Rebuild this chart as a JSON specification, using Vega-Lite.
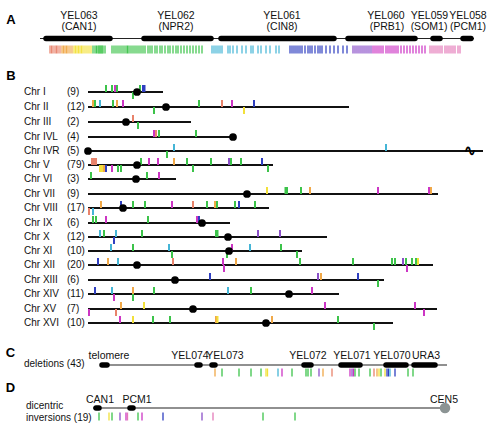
{
  "$schema": "https://vega.github.io/schema/vega-lite/v6.json",
  "width": 493,
  "height": 430,
  "autosize": {"type": "fit", "contains": "padding"},
  "padding": 0,
  "background": "white",
  "config": {"view": {"stroke": null}, "text": {"font": "Liberation Sans"}},
  "datasets": {
    "loci": [
      {"panel": "A", "x1": 40, "x2": 474, "y": 38.5},
      {"panel": "C", "x1": 100, "x2": 447, "y": 365},
      {"panel": "D", "x1": 93, "x2": 445, "y": 408}
    ],
    "genes": [
      {"x1": 46, "x2": 110, "y": 38.5}, {"x1": 144, "x2": 211, "y": 38.5}, {"x1": 221, "x2": 334, "y": 38.5},
      {"x1": 348, "x2": 415, "y": 38.5}, {"x1": 433, "x2": 440, "y": 38.5}, {"x1": 463, "x2": 471, "y": 38.5},
      {"x1": 102, "x2": 107, "y": 365}, {"x1": 197, "x2": 200, "y": 365}, {"x1": 212, "x2": 215, "y": 365},
      {"x1": 304, "x2": 311, "y": 365}, {"x1": 341, "x2": 360, "y": 365}, {"x1": 386, "x2": 406, "y": 365},
      {"x1": 414, "x2": 435, "y": 365},
      {"x1": 96, "x2": 99, "y": 408}, {"x1": 130, "x2": 133, "y": 408}
    ],
    "chroms": [
      {"chr": "I", "name": "Chr I", "count": "(9)", "y": 92, "x1": 88, "x2": 163, "cen": 137},
      {"chr": "II", "name": "Chr II", "count": "(12)", "y": 107, "x1": 88, "x2": 349, "cen": 166},
      {"chr": "III", "name": "Chr III", "count": "(2)", "y": 122, "x1": 88, "x2": 191, "cen": 126},
      {"chr": "IVL", "name": "Chr IVL", "count": "(4)", "y": 137, "x1": 88, "x2": 233, "cen": 233},
      {"chr": "IVR", "name": "Chr IVR", "count": "(5)", "y": 151, "x1": 88, "x2": 483, "cen": 88},
      {"chr": "V", "name": "Chr V", "count": "(79)", "y": 165, "x1": 88, "x2": 273, "cen": 137},
      {"chr": "VI", "name": "Chr VI", "count": "(3)", "y": 179, "x1": 88, "x2": 176, "cen": 136},
      {"chr": "VII", "name": "Chr VII", "count": "(9)", "y": 194, "x1": 88, "x2": 438, "cen": 247},
      {"chr": "VIII", "name": "Chr VIII", "count": "(17)", "y": 208, "x1": 88, "x2": 269, "cen": 123},
      {"chr": "IX", "name": "Chr IX", "count": "(6)", "y": 223, "x1": 88, "x2": 230, "cen": 202},
      {"chr": "X", "name": "Chr X", "count": "(12)", "y": 237, "x1": 88, "x2": 327, "cen": 228},
      {"chr": "XI", "name": "Chr XI", "count": "(10)", "y": 251, "x1": 88, "x2": 302, "cen": 229},
      {"chr": "XII", "name": "Chr XII", "count": "(20)", "y": 265, "x1": 88, "x2": 433, "cen": 137},
      {"chr": "XIII", "name": "Chr XIII", "count": "(6)", "y": 280, "x1": 88, "x2": 384, "cen": 175},
      {"chr": "XIV", "name": "Chr XIV", "count": "(11)", "y": 294, "x1": 88, "x2": 339, "cen": 289},
      {"chr": "XV", "name": "Chr XV", "count": "(7)", "y": 309, "x1": 88, "x2": 437, "cen": 193},
      {"chr": "XVI", "name": "Chr XVI", "count": "(10)", "y": 323, "x1": 88, "x2": 393, "cen": 266}
    ],
    "tickA": [
      {"x": 50, "c": "salmon"}, {"x": 51.5, "c": "salmon"}, {"x": 53, "c": "salmon"}, {"x": 55, "c": "salmon"}, {"x": 56.5, "c": "salmon"}, {"x": 58, "c": "salmon"}, {"x": 60, "c": "salmon"},
      {"x": 62, "c": "orange"}, {"x": 63.5, "c": "orange"}, {"x": 65, "c": "orange"}, {"x": 66.5, "c": "orange"}, {"x": 68, "c": "orange"}, {"x": 70, "c": "orange"}, {"x": 72, "c": "orange"},
      {"x": 74, "c": "yellow"}, {"x": 75.5, "c": "yellow"}, {"x": 77, "c": "yellow"}, {"x": 78.5, "c": "yellow"}, {"x": 80, "c": "yellow"}, {"x": 81.5, "c": "yellow"}, {"x": 83, "c": "yellow"}, {"x": 85, "c": "yellow"}, {"x": 87, "c": "yellow"}, {"x": 89, "c": "yellow"}, {"x": 91, "c": "yellow"},
      {"x": 93, "c": "green"}, {"x": 95, "c": "green"}, {"x": 96.5, "c": "green"}, {"x": 98, "c": "green"}, {"x": 99, "c": "green"}, {"x": 100, "c": "green"}, {"x": 101, "c": "green"}, {"x": 102, "c": "green"}, {"x": 103, "c": "green"}, {"x": 105, "c": "green"},
      {"x": 112, "c": "green"}, {"x": 114, "c": "green"}, {"x": 116, "c": "green"}, {"x": 118, "c": "green"}, {"x": 120, "c": "green"}, {"x": 122, "c": "green"}, {"x": 124, "c": "green"}, {"x": 126, "c": "green"}, {"x": 127.5, "c": "green"}, {"x": 129, "c": "green"},
      {"x": 131, "c": "green"}, {"x": 133, "c": "green"}, {"x": 135, "c": "green"}, {"x": 137, "c": "green"}, {"x": 139, "c": "green"}, {"x": 141, "c": "green"}, {"x": 143, "c": "green"}, {"x": 145, "c": "green"}, {"x": 148, "c": "green"}, {"x": 150, "c": "green"},
      {"x": 152, "c": "green"}, {"x": 155, "c": "green"}, {"x": 157, "c": "green"}, {"x": 160, "c": "green"}, {"x": 162, "c": "green"}, {"x": 165, "c": "green"}, {"x": 168, "c": "green"}, {"x": 170, "c": "green"}, {"x": 173, "c": "green"}, {"x": 176, "c": "green"},
      {"x": 178, "c": "green"}, {"x": 181, "c": "green"}, {"x": 184, "c": "green"}, {"x": 187, "c": "green"}, {"x": 190, "c": "green"}, {"x": 193, "c": "green"}, {"x": 196, "c": "green"}, {"x": 199, "c": "green"}, {"x": 202, "c": "green"},
      {"x": 212, "c": "cyan"}, {"x": 214, "c": "cyan"}, {"x": 216, "c": "cyan"}, {"x": 218, "c": "cyan"}, {"x": 220, "c": "cyan"}, {"x": 222, "c": "cyan"}, {"x": 228, "c": "cyan"}, {"x": 230, "c": "cyan"}, {"x": 233, "c": "cyan"}, {"x": 237, "c": "cyan"},
      {"x": 242, "c": "cyan"}, {"x": 246, "c": "cyan"}, {"x": 251, "c": "cyan"}, {"x": 253, "c": "cyan"}, {"x": 258, "c": "cyan"}, {"x": 261, "c": "cyan"}, {"x": 266, "c": "cyan"}, {"x": 270, "c": "cyan"}, {"x": 276, "c": "cyan"}, {"x": 279, "c": "cyan"},
      {"x": 290, "c": "blue"}, {"x": 292, "c": "blue"}, {"x": 294, "c": "blue"}, {"x": 296, "c": "blue"}, {"x": 298, "c": "blue"}, {"x": 300, "c": "blue"}, {"x": 302, "c": "blue"}, {"x": 305, "c": "blue"}, {"x": 308, "c": "blue"}, {"x": 310, "c": "blue"},
      {"x": 312, "c": "blue"}, {"x": 315, "c": "blue"}, {"x": 318, "c": "blue"}, {"x": 320, "c": "blue"}, {"x": 322, "c": "blue"}, {"x": 326, "c": "blue"}, {"x": 330, "c": "blue"}, {"x": 334, "c": "blue"}, {"x": 338, "c": "blue"}, {"x": 343, "c": "blue"}, {"x": 347, "c": "blue"},
      {"x": 353, "c": "purple"}, {"x": 355, "c": "purple"}, {"x": 357, "c": "purple"}, {"x": 359, "c": "purple"}, {"x": 361, "c": "purple"}, {"x": 363, "c": "purple"}, {"x": 365, "c": "purple"}, {"x": 367, "c": "purple"}, {"x": 369, "c": "purple"}, {"x": 371, "c": "purple"},
      {"x": 373, "c": "magenta"}, {"x": 375, "c": "magenta"}, {"x": 377, "c": "magenta"}, {"x": 379, "c": "magenta"}, {"x": 381, "c": "magenta"}, {"x": 383, "c": "magenta"}, {"x": 386, "c": "magenta"}, {"x": 388, "c": "magenta"}, {"x": 390, "c": "magenta"}, {"x": 392, "c": "magenta"},
      {"x": 394, "c": "magenta"}, {"x": 396, "c": "magenta"}, {"x": 398, "c": "magenta"}, {"x": 401, "c": "magenta"}, {"x": 404, "c": "magenta"}, {"x": 407, "c": "magenta"}, {"x": 410, "c": "magenta"}, {"x": 413, "c": "magenta"}, {"x": 416, "c": "magenta"}, {"x": 419, "c": "magenta"}, {"x": 422, "c": "magenta"}, {"x": 425, "c": "magenta"},
      {"x": 430, "c": "pink"}, {"x": 432, "c": "pink"}, {"x": 434, "c": "pink"}, {"x": 436, "c": "pink"}, {"x": 438, "c": "pink"}, {"x": 440, "c": "pink"}, {"x": 442, "c": "pink"}, {"x": 445, "c": "pink"}, {"x": 447, "c": "pink"}, {"x": 449, "c": "pink"},
      {"x": 451, "c": "pink"}, {"x": 453, "c": "pink"}, {"x": 455, "c": "pink"}, {"x": 458, "c": "pink"}, {"x": 460, "c": "pink"}
    ],
    "tickB": [
      {"y": 92, "x": 106, "s": "a", "c": "green"}, {"y": 92, "x": 112, "s": "a", "c": "green"}, {"y": 92, "x": 115, "s": "a", "c": "magenta"}, {"y": 92, "x": 117, "s": "a", "c": "green"}, {"y": 92, "x": 140, "s": "a", "c": "green"}, {"y": 92, "x": 143, "s": "a", "c": "blue"}, {"y": 92, "x": 144.5, "s": "a", "c": "blue"}, {"y": 92, "x": 133, "s": "b", "c": "green"},
      {"y": 107, "x": 93, "s": "a", "c": "orange"}, {"y": 107, "x": 95, "s": "a", "c": "green"}, {"y": 107, "x": 100, "s": "a", "c": "cyan"}, {"y": 107, "x": 113, "s": "a", "c": "green"}, {"y": 107, "x": 117, "s": "a", "c": "orange"}, {"y": 107, "x": 123, "s": "a", "c": "magenta"}, {"y": 107, "x": 199, "s": "a", "c": "green"}, {"y": 107, "x": 222, "s": "a", "c": "salmon"}, {"y": 107, "x": 232, "s": "a", "c": "magenta"}, {"y": 107, "x": 254, "s": "a", "c": "blue"}, {"y": 107, "x": 154, "s": "b", "c": "green"}, {"y": 107, "x": 244, "s": "b", "c": "yellow"},
      {"y": 122, "x": 133, "s": "a", "c": "salmon"}, {"y": 122, "x": 138, "s": "b", "c": "green"},
      {"y": 137, "x": 154, "s": "a", "c": "magenta"}, {"y": 137, "x": 156, "s": "a", "c": "salmon"}, {"y": 137, "x": 159, "s": "a", "c": "green"}, {"y": 137, "x": 196, "s": "a", "c": "green"},
      {"y": 151, "x": 174, "s": "a", "c": "cyan"}, {"y": 151, "x": 386, "s": "a", "c": "cyan"}, {"y": 151, "x": 167, "s": "b", "c": "green"},
      {"y": 165, "x": 92, "s": "a", "c": "salmon"}, {"y": 165, "x": 94, "s": "a", "c": "salmon"}, {"y": 165, "x": 96, "s": "a", "c": "salmon"}, {"y": 165, "x": 141, "s": "a", "c": "green"}, {"y": 165, "x": 149, "s": "a", "c": "magenta"}, {"y": 165, "x": 158, "s": "a", "c": "magenta"}, {"y": 165, "x": 174, "s": "a", "c": "orange"}, {"y": 165, "x": 187, "s": "a", "c": "green"}, {"y": 165, "x": 211, "s": "a", "c": "green"}, {"y": 165, "x": 229, "s": "a", "c": "purple"}, {"y": 165, "x": 231, "s": "a", "c": "green"}, {"y": 165, "x": 241, "s": "a", "c": "green"}, {"y": 165, "x": 262, "s": "a", "c": "blue"},
      {"y": 165, "x": 100, "s": "b", "c": "yellow"}, {"y": 165, "x": 102, "s": "b", "c": "yellow"}, {"y": 165, "x": 104, "s": "b", "c": "orange"}, {"y": 165, "x": 106, "s": "b", "c": "blue"}, {"y": 165, "x": 112, "s": "b", "c": "magenta"}, {"y": 165, "x": 118, "s": "b", "c": "green"}, {"y": 165, "x": 121, "s": "b", "c": "green"}, {"y": 165, "x": 193, "s": "b", "c": "green"}, {"y": 165, "x": 268, "s": "b", "c": "green"},
      {"y": 179, "x": 91, "s": "a", "c": "green"}, {"y": 179, "x": 147, "s": "a", "c": "green"}, {"y": 179, "x": 159, "s": "a", "c": "magenta"},
      {"y": 194, "x": 267, "s": "a", "c": "yellow"}, {"y": 194, "x": 285.5, "s": "a", "c": "green"}, {"y": 194, "x": 287, "s": "a", "c": "green"}, {"y": 194, "x": 301, "s": "a", "c": "green"}, {"y": 194, "x": 310, "s": "a", "c": "orange"}, {"y": 194, "x": 378, "s": "a", "c": "magenta"}, {"y": 194, "x": 429, "s": "a", "c": "magenta"}, {"y": 194, "x": 431, "s": "a", "c": "orange"},
      {"y": 208, "x": 101, "s": "a", "c": "orange"}, {"y": 208, "x": 121, "s": "a", "c": "blue"}, {"y": 208, "x": 133, "s": "a", "c": "green"}, {"y": 208, "x": 145, "s": "a", "c": "green"}, {"y": 208, "x": 172, "s": "a", "c": "magenta"}, {"y": 208, "x": 193, "s": "a", "c": "salmon"}, {"y": 208, "x": 207, "s": "a", "c": "green"}, {"y": 208, "x": 215, "s": "a", "c": "orange"}, {"y": 208, "x": 217, "s": "a", "c": "green"}, {"y": 208, "x": 235, "s": "a", "c": "green"}, {"y": 208, "x": 239, "s": "a", "c": "blue"}, {"y": 208, "x": 255, "s": "a", "c": "green"}, {"y": 208, "x": 89, "s": "b", "c": "salmon"}, {"y": 208, "x": 93, "s": "b", "c": "cyan"},
      {"y": 223, "x": 93, "s": "a", "c": "green"}, {"y": 223, "x": 96, "s": "a", "c": "green"}, {"y": 223, "x": 106, "s": "a", "c": "magenta"}, {"y": 223, "x": 148, "s": "a", "c": "green"}, {"y": 223, "x": 197, "s": "a", "c": "magenta"}, {"y": 223, "x": 199, "s": "a", "c": "blue"},
      {"y": 237, "x": 100, "s": "a", "c": "cyan"}, {"y": 237, "x": 104, "s": "a", "c": "green"}, {"y": 237, "x": 116, "s": "a", "c": "cyan"}, {"y": 237, "x": 142, "s": "a", "c": "green"}, {"y": 237, "x": 216, "s": "a", "c": "green"}, {"y": 237, "x": 217.5, "s": "a", "c": "green"}, {"y": 237, "x": 258, "s": "a", "c": "purple"}, {"y": 237, "x": 280, "s": "a", "c": "purple"}, {"y": 237, "x": 114, "s": "b", "c": "blue"},
      {"y": 251, "x": 111, "s": "a", "c": "cyan"}, {"y": 251, "x": 133, "s": "a", "c": "green"}, {"y": 251, "x": 169, "s": "a", "c": "cyan"}, {"y": 251, "x": 232, "s": "a", "c": "magenta"}, {"y": 251, "x": 250, "s": "a", "c": "cyan"}, {"y": 251, "x": 281, "s": "a", "c": "green"}, {"y": 251, "x": 172, "s": "b", "c": "green"}, {"y": 251, "x": 227, "s": "b", "c": "green"}, {"y": 251, "x": 297, "s": "b", "c": "green"},
      {"y": 265, "x": 98, "s": "a", "c": "blue"}, {"y": 265, "x": 108, "s": "a", "c": "orange"}, {"y": 265, "x": 118, "s": "a", "c": "cyan"}, {"y": 265, "x": 173, "s": "a", "c": "salmon"}, {"y": 265, "x": 223, "s": "a", "c": "magenta"}, {"y": 265, "x": 236, "s": "a", "c": "orange"}, {"y": 265, "x": 300, "s": "a", "c": "green"}, {"y": 265, "x": 353, "s": "a", "c": "green"}, {"y": 265, "x": 392, "s": "a", "c": "green"}, {"y": 265, "x": 395, "s": "a", "c": "green"}, {"y": 265, "x": 403, "s": "a", "c": "purple"}, {"y": 265, "x": 406, "s": "a", "c": "green"}, {"y": 265, "x": 412, "s": "a", "c": "green"}, {"y": 265, "x": 416, "s": "a", "c": "green"}, {"y": 265, "x": 418, "s": "a", "c": "yellow"}, {"y": 265, "x": 224, "s": "b", "c": "magenta"}, {"y": 265, "x": 407, "s": "b", "c": "magenta"},
      {"y": 280, "x": 210, "s": "a", "c": "blue"}, {"y": 280, "x": 318, "s": "a", "c": "purple"}, {"y": 280, "x": 321, "s": "a", "c": "orange"}, {"y": 280, "x": 358, "s": "a", "c": "blue"}, {"y": 280, "x": 378, "s": "b", "c": "green"},
      {"y": 294, "x": 95, "s": "a", "c": "blue"}, {"y": 294, "x": 112, "s": "a", "c": "cyan"}, {"y": 294, "x": 133, "s": "a", "c": "orange"}, {"y": 294, "x": 154, "s": "a", "c": "green"}, {"y": 294, "x": 228, "s": "a", "c": "cyan"}, {"y": 294, "x": 251, "s": "a", "c": "green"}, {"y": 294, "x": 312, "s": "a", "c": "magenta"}, {"y": 294, "x": 114, "s": "b", "c": "magenta"}, {"y": 294, "x": 133, "s": "b", "c": "green"},
      {"y": 309, "x": 121, "s": "a", "c": "orange"}, {"y": 309, "x": 144, "s": "a", "c": "yellow"}, {"y": 309, "x": 325, "s": "a", "c": "magenta"}, {"y": 309, "x": 415, "s": "a", "c": "magenta"}, {"y": 309, "x": 89, "s": "b", "c": "magenta"}, {"y": 309, "x": 116, "s": "b", "c": "salmon"}, {"y": 309, "x": 424, "s": "b", "c": "magenta"},
      {"y": 323, "x": 120, "s": "a", "c": "magenta"}, {"y": 323, "x": 133, "s": "a", "c": "yellow"}, {"y": 323, "x": 153, "s": "a", "c": "green"}, {"y": 323, "x": 170, "s": "a", "c": "green"}, {"y": 323, "x": 216, "s": "a", "c": "orange"}, {"y": 323, "x": 217.5, "s": "a", "c": "yellow"}, {"y": 323, "x": 272, "s": "a", "c": "orange"}, {"y": 323, "x": 338, "s": "a", "c": "green"}, {"y": 323, "x": 374, "s": "b", "c": "green"}
    ],
    "tickC": [
      {"x": 215, "c": "orange"}, {"x": 222, "c": "green"}, {"x": 239, "c": "green"}, {"x": 251, "c": "green"}, {"x": 261, "c": "green"}, {"x": 266, "c": "yellow"}, {"x": 267.5, "c": "yellow"}, {"x": 278, "c": "cyan"}, {"x": 282, "c": "magenta"}, {"x": 292, "c": "green"},
      {"x": 306, "c": "green"}, {"x": 308, "c": "green"}, {"x": 311, "c": "green"}, {"x": 319, "c": "purple"}, {"x": 323, "c": "orange"}, {"x": 332, "c": "salmon"}, {"x": 350, "c": "magenta"}, {"x": 352, "c": "purple"}, {"x": 353.5, "c": "magenta"}, {"x": 355, "c": "green"},
      {"x": 359, "c": "green"}, {"x": 370, "c": "green"}, {"x": 374, "c": "salmon"}, {"x": 377, "c": "orange"}, {"x": 379, "c": "yellow"}, {"x": 381, "c": "green"}, {"x": 385, "c": "yellow"}, {"x": 387, "c": "blue"}, {"x": 388.5, "c": "blue"}, {"x": 390, "c": "cyan"},
      {"x": 395, "c": "blue"}, {"x": 408, "c": "green"}, {"x": 413, "c": "green"}
    ],
    "tickD": [
      {"x": 99, "c": "green"}, {"x": 109, "c": "yellow"}, {"x": 112, "c": "green"}, {"x": 120, "c": "purple"}, {"x": 126, "c": "magenta"}, {"x": 127.5, "c": "pink"}, {"x": 138, "c": "green"}, {"x": 142, "c": "magenta"}, {"x": 163, "c": "blue"}, {"x": 202, "c": "purple"}, {"x": 213, "c": "pink"}, {"x": 263, "c": "green"}, {"x": 295, "c": "green"}
    ],
    "labels": [
      {"k": "panel", "x": 11, "y": 20, "t": "A"},
      {"k": "panel", "x": 11, "y": 76, "t": "B"},
      {"k": "panel", "x": 10.5, "y": 353, "t": "C"},
      {"k": "panel", "x": 10.5, "y": 388, "t": "D"},
      {"k": "gene", "x": 79, "y": 15.5, "t": "YEL063"}, {"k": "gene", "x": 79, "y": 26.5, "t": "(CAN1)"},
      {"k": "gene", "x": 176, "y": 15.5, "t": "YEL062"}, {"k": "gene", "x": 176, "y": 26.5, "t": "(NPR2)"},
      {"k": "gene", "x": 282, "y": 15.5, "t": "YEL061"}, {"k": "gene", "x": 282, "y": 26.5, "t": "(CIN8)"},
      {"k": "gene", "x": 386, "y": 15.5, "t": "YEL060"}, {"k": "gene", "x": 387, "y": 26.5, "t": "(PRB1)"},
      {"k": "gene", "x": 429.5, "y": 15.5, "t": "YEL059"}, {"k": "gene", "x": 429, "y": 26.5, "t": "(SOM1)"},
      {"k": "gene", "x": 468, "y": 15.5, "t": "YEL058"}, {"k": "gene", "x": 468, "y": 26.5, "t": "(PCM1)"},
      {"k": "gene", "x": 109, "y": 355.5, "t": "telomere"},
      {"k": "gene", "x": 190, "y": 355.5, "t": "YEL074"}, {"k": "gene", "x": 225, "y": 355.5, "t": "YEL073"},
      {"k": "gene", "x": 308, "y": 355.5, "t": "YEL072"}, {"k": "gene", "x": 352, "y": 355.5, "t": "YEL071"},
      {"k": "gene", "x": 392, "y": 355.5, "t": "YEL070"}, {"k": "gene", "x": 426, "y": 355.5, "t": "URA3"},
      {"k": "gene", "x": 100, "y": 399.5, "t": "CAN1"}, {"k": "gene", "x": 137, "y": 399.5, "t": "PCM1"}, {"k": "gene", "x": 444, "y": 399.5, "t": "CEN5"},
      {"k": "left", "x": 24, "y": 363.5, "t": "deletions (43)"},
      {"k": "left", "x": 26, "y": 405.5, "t": "dicentric"},
      {"k": "left", "x": 26, "y": 417.5, "t": "inversions (19)"},
      {"k": "squig", "x": 470, "y": 151, "t": "∿"}
    ],
    "cen5": [{"x": 445, "y": 408}]
  },
  "layer": [
    {
      "data": {"name": "loci"},
      "mark": {"type": "rule", "strokeWidth": 1.2, "color": "#222222"},
      "encoding": {
        "x": {"field": "x1", "type": "quantitative", "scale": {"domain": [0, 493], "nice": false, "zero": false}, "axis": null},
        "x2": {"field": "x2"},
        "y": {"field": "y", "type": "quantitative", "scale": {"domain": [0, 430], "nice": false, "zero": false, "reverse": true}, "axis": null}
      }
    },
    {
      "data": {"name": "chroms"},
      "mark": {"type": "rule", "strokeWidth": 2.2, "color": "#111111"},
      "encoding": {
        "x": {"field": "x1", "type": "quantitative"},
        "x2": {"field": "x2"},
        "y": {"field": "y", "type": "quantitative"}
      }
    },
    {
      "data": {"name": "genes"},
      "mark": {"type": "rule", "strokeWidth": 5.5, "strokeCap": "round", "color": "#000000"},
      "encoding": {
        "x": {"field": "x1", "type": "quantitative"},
        "x2": {"field": "x2"},
        "y": {"field": "y", "type": "quantitative"}
      }
    },
    {
      "data": {"name": "tickA"},
      "mark": {"type": "rule", "strokeWidth": 1.3, "opacity": 0.95},
      "encoding": {
        "x": {"field": "x", "type": "quantitative"},
        "y": {"datum": 45.5, "type": "quantitative"},
        "y2": {"datum": 53.5},
        "color": {"field": "c", "type": "nominal", "legend": null,
          "scale": {"domain": ["salmon", "orange", "yellow", "green", "cyan", "blue", "purple", "magenta", "pink"],
                    "range": ["#e8836b", "#f0a848", "#f2e03a", "#3cc34a", "#45b5d6", "#2f3fc0", "#8a4fc8", "#cc35c4", "#e47ab8"]}}
      }
    },
    {
      "data": {"name": "tickB"},
      "transform": [{"filter": "datum.s === 'a'"}],
      "mark": {"type": "tick", "orient": "vertical", "size": 7, "thickness": 2, "yOffset": -3.5, "opacity": 1},
      "encoding": {
        "x": {"field": "x", "type": "quantitative"},
        "y": {"field": "y", "type": "quantitative"},
        "color": {"field": "c", "type": "nominal", "legend": null}
      }
    },
    {
      "data": {"name": "tickB"},
      "transform": [{"filter": "datum.s === 'b'"}],
      "mark": {"type": "tick", "orient": "vertical", "size": 7, "thickness": 2, "yOffset": 3.5, "opacity": 1},
      "encoding": {
        "x": {"field": "x", "type": "quantitative"},
        "y": {"field": "y", "type": "quantitative"},
        "color": {"field": "c", "type": "nominal", "legend": null}
      }
    },
    {
      "data": {"name": "tickC"},
      "mark": {"type": "rule", "strokeWidth": 1.3},
      "encoding": {
        "x": {"field": "x", "type": "quantitative"},
        "y": {"datum": 368.5, "type": "quantitative"},
        "y2": {"datum": 376.5},
        "color": {"field": "c", "type": "nominal", "legend": null}
      }
    },
    {
      "data": {"name": "tickD"},
      "mark": {"type": "rule", "strokeWidth": 1.3},
      "encoding": {
        "x": {"field": "x", "type": "quantitative"},
        "y": {"datum": 412.5, "type": "quantitative"},
        "y2": {"datum": 420.5},
        "color": {"field": "c", "type": "nominal", "legend": null}
      }
    },
    {
      "data": {"name": "chroms"},
      "mark": {"type": "point", "filled": true, "size": 60, "color": "#000000", "opacity": 1},
      "encoding": {
        "x": {"field": "cen", "type": "quantitative"},
        "y": {"field": "y", "type": "quantitative"}
      }
    },
    {
      "data": {"name": "cen5"},
      "mark": {"type": "point", "filled": true, "size": 110, "color": "#8c9494", "opacity": 1},
      "encoding": {
        "x": {"field": "x", "type": "quantitative"},
        "y": {"field": "y", "type": "quantitative"}
      }
    },
    {
      "data": {"name": "labels"},
      "transform": [{"filter": "datum.k === 'squig'"}],
      "mark": {"type": "text", "font": "DejaVu Sans", "fontSize": 16, "fontWeight": "bold", "baseline": "middle", "align": "center", "color": "#000000"},
      "encoding": {
        "x": {"field": "x", "type": "quantitative"},
        "y": {"field": "y", "type": "quantitative"},
        "text": {"field": "t"}
      }
    },
    {
      "data": {"name": "chroms"},
      "mark": {"type": "text", "fontSize": 10, "align": "left", "baseline": "middle", "color": "#111111", "dx": -64},
      "encoding": {
        "x": {"field": "x1", "type": "quantitative"},
        "y": {"field": "y", "type": "quantitative"},
        "text": {"field": "name"}
      }
    },
    {
      "data": {"name": "chroms"},
      "mark": {"type": "text", "fontSize": 10, "align": "left", "baseline": "middle", "color": "#111111", "dx": -21},
      "encoding": {
        "x": {"field": "x1", "type": "quantitative"},
        "y": {"field": "y", "type": "quantitative"},
        "text": {"field": "count"}
      }
    },
    {
      "data": {"name": "labels"},
      "transform": [{"filter": "datum.k === 'panel'"}],
      "mark": {"type": "text", "fontSize": 13, "fontWeight": "bold", "align": "center", "baseline": "middle", "color": "#000000"},
      "encoding": {
        "x": {"field": "x", "type": "quantitative"},
        "y": {"field": "y", "type": "quantitative"},
        "text": {"field": "t"}
      }
    },
    {
      "data": {"name": "labels"},
      "transform": [{"filter": "datum.k === 'gene'"}],
      "mark": {"type": "text", "fontSize": 10.5, "align": "center", "baseline": "middle", "color": "#111111"},
      "encoding": {
        "x": {"field": "x", "type": "quantitative"},
        "y": {"field": "y", "type": "quantitative"},
        "text": {"field": "t"}
      }
    },
    {
      "data": {"name": "labels"},
      "transform": [{"filter": "datum.k === 'left'"}],
      "mark": {"type": "text", "fontSize": 10, "align": "left", "baseline": "middle", "color": "#111111"},
      "encoding": {
        "x": {"field": "x", "type": "quantitative"},
        "y": {"field": "y", "type": "quantitative"},
        "text": {"field": "t"}
      }
    }
  ]
}
